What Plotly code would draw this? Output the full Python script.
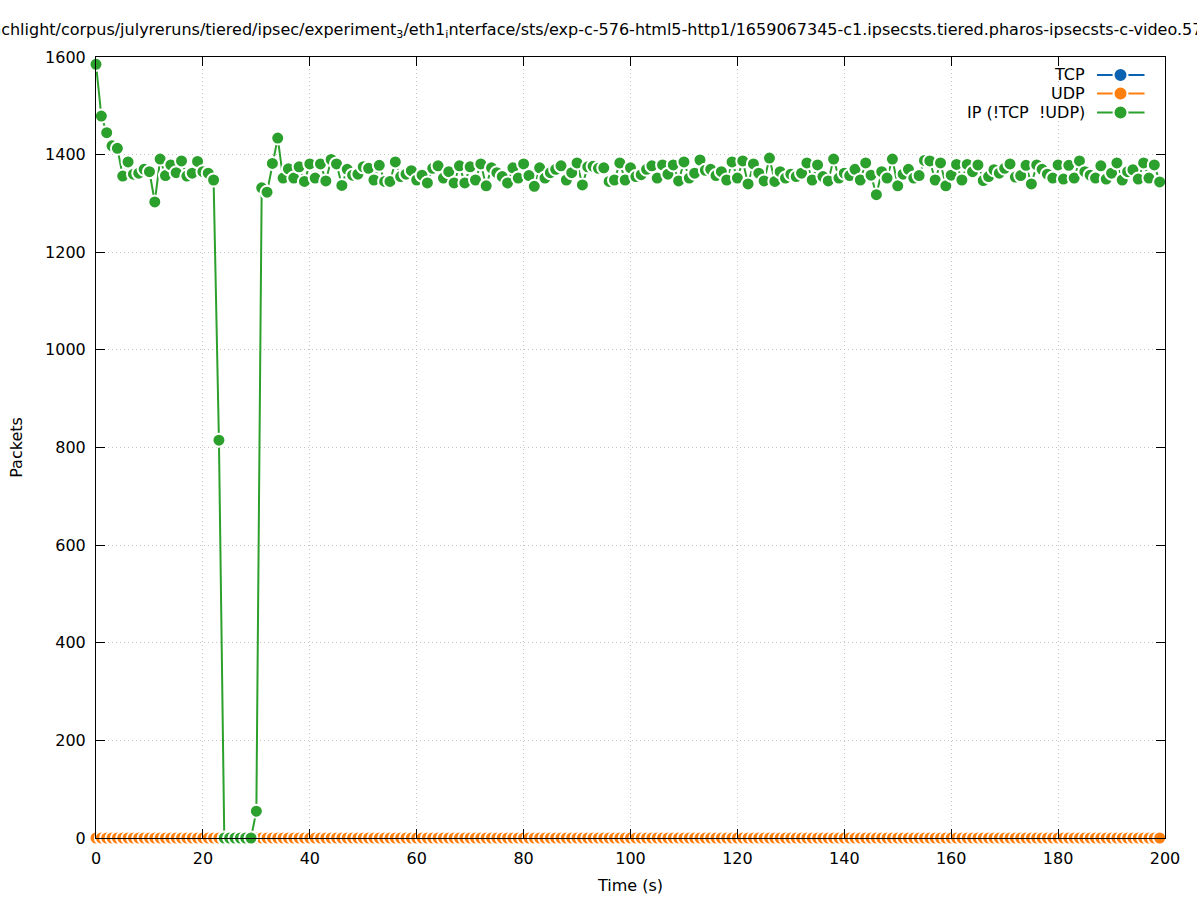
import plotly.graph_objects as go

# ---------------- data ----------------
time_s = list(range(200))

tcp_packets = [0] * 200
udp_packets = [0] * 200

ip_other_packets = [
    1585, 1479, 1445, 1418, 1413, 1356, 1385, 1360, 1362, 1370,
    1365, 1303, 1391, 1357, 1379, 1363, 1387, 1356, 1362, 1386,
    1365, 1362, 1348, 815, 0, 0, 0, 0, 0, 0,
    55, 1332, 1323, 1382, 1434, 1352, 1371, 1352, 1375, 1345,
    1381, 1352, 1381, 1346, 1390, 1381, 1337, 1370, 1358, 1360,
    1375, 1372, 1348, 1378, 1345, 1345, 1385, 1355, 1360, 1367,
    1348, 1358, 1342, 1372, 1377, 1352, 1365, 1342, 1377, 1342,
    1375, 1348, 1381, 1336, 1373, 1363, 1355, 1342, 1373, 1352,
    1381, 1357, 1335, 1373, 1352, 1363, 1370, 1377, 1348, 1363,
    1383, 1338, 1375, 1376, 1372, 1373, 1345, 1348, 1383, 1348,
    1373, 1355, 1359, 1370, 1377, 1352, 1379, 1360, 1379, 1346,
    1385, 1352, 1362, 1389, 1368, 1370, 1357, 1365, 1348, 1385,
    1352, 1387, 1340, 1381, 1362, 1346, 1393, 1345, 1365, 1352,
    1360, 1355, 1362, 1383, 1348, 1379, 1355, 1346, 1391, 1352,
    1362, 1357, 1370, 1348, 1383, 1358, 1318, 1365, 1352, 1391,
    1336, 1360, 1370, 1352, 1357, 1388, 1387, 1348, 1383, 1336,
    1358, 1380, 1348, 1380, 1365, 1379, 1347, 1355, 1369, 1362,
    1372, 1381, 1354, 1357, 1378, 1340, 1379, 1370, 1360, 1352,
    1379, 1350, 1378, 1352, 1387, 1365, 1358, 1352, 1377, 1350,
    1362, 1383, 1348, 1365, 1369, 1350, 1383, 1352, 1379, 1344,
]

series_names = ["TCP", "UDP", "IP (!TCP  !UDP)"]
series_colors = ["#0b62b0", "#ff7f0e", "#2ca02c"]
series_values = [tcp_packets, udp_packets, ip_other_packets]

x_ticks = [0, 20, 40, 60, 80, 100, 120, 140, 160, 180, 200]
y_ticks = [0, 200, 400, 600, 800, 1000, 1200, 1400, 1600]

title_text = ("benchlight/corpus/julyreruns/tiered/ipsec/experiment<sub>3</sub>/eth1<sub>i</sub>nterface/sts/"
              "exp-c-576-html5-http1/1659067345-c1.ipsecsts.tiered.pharos-ipsecsts-c-video.576")

FONT = "DejaVu Sans"
FS = 16

# ---------------- figure ----------------
fig = go.Figure()
for name, color, vals in zip(series_names, series_colors, series_values):
    fig.add_trace(go.Scatter(
        x=time_s, y=vals, name=name, mode="lines+markers",
        line=dict(color=color, width=2),
        marker=dict(color=color, size=13, line=dict(color="white", width=2)),
        cliponaxis=False, showlegend=False, hoverinfo="skip",
    ))

W, H = 1197, 900
ml, mr, mt, mb = 96, 31.5, 57, 62
pw = W - ml - mr
ph = H - mt - mb

def px_to_paper_x(px):
    return (px - ml) / pw

def px_to_paper_y(py):
    return (H - mb - py) / ph

axis_common = dict(
    showline=True, linecolor="black", linewidth=1, mirror="ticks",
    ticks="inside", ticklen=9, tickcolor="black", tickwidth=1,
    showgrid=True, gridcolor="#c4c4c4", griddash="1px,3px", gridwidth=1,
    zeroline=False, tickfont=dict(family=FONT, size=FS, color="black"),
    automargin=False,
)

fig.update_xaxes(range=[0, 200], tickmode="array", tickvals=x_ticks,
                 title=dict(text="Time (s)", font=dict(family=FONT, size=FS, color="black"), standoff=12),
                 ticklabelstandoff=6, **axis_common)
fig.update_yaxes(range=[0, 1600], tickmode="array", tickvals=y_ticks,
                 title=dict(text="Packets", font=dict(family=FONT, size=FS, color="black"), standoff=18),
                 ticklabelstandoff=6, **axis_common)

# title (long path, overflowing both sides like the original)
fig.add_annotation(
    xref="paper", yref="paper", x=px_to_paper_x(-31), y=px_to_paper_y(30),
    xanchor="left", yanchor="middle", text=title_text, showarrow=False,
    font=dict(family=FONT, size=FS, color="black"),
)

# legend drawn gnuplot style: text, then line sample with point
legend_rows_py = [75, 93.5, 112.5]
shapes = []
for name, color, py in zip(series_names, series_colors, legend_rows_py):
    yp = px_to_paper_y(py)
    fig.add_annotation(xref="paper", yref="paper", x=px_to_paper_x(1087), y=yp,
                       xanchor="right", yanchor="middle", text=name, showarrow=False,
                       font=dict(family=FONT, size=FS, color="black"))
    shapes.append(dict(type="line", xref="paper", yref="paper",
                       x0=px_to_paper_x(1097.5), x1=px_to_paper_x(1145), y0=yp, y1=yp,
                       line=dict(color=color, width=2)))
    shapes.append(dict(type="circle", xref="paper", yref="paper",
                       xsizemode="pixel", ysizemode="pixel",
                       xanchor=px_to_paper_x(1121), yanchor=yp,
                       x0=-7, x1=7, y0=-7, y1=7,
                       fillcolor=color, line=dict(color="white", width=2)))

fig.update_layout(
    width=W, height=H, autosize=False,
    margin=dict(l=ml, r=mr, t=mt, b=mb, pad=0, autoexpand=False),
    paper_bgcolor="white", plot_bgcolor="white",
    shapes=shapes, showlegend=False, hovermode=False,
    font=dict(family=FONT, size=FS, color="black"),
)

fig.write_html("out.html", config={"displayModeBar": False, "staticPlot": True},
               post_script="document.body.style.margin='0';document.body.style.overflow='hidden';")
